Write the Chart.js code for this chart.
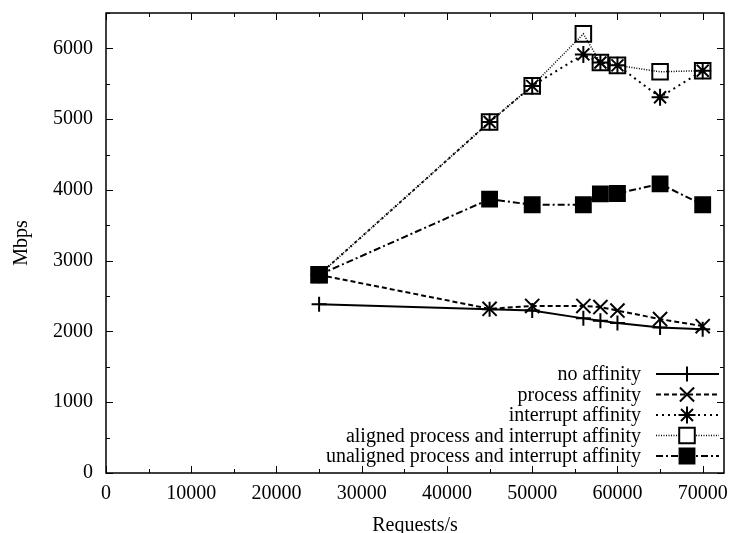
<!DOCTYPE html>
<html>
<head>
<meta charset="utf-8">
<script src="https://cdn.jsdelivr.net/npm/chart.js@4.4.0/dist/chart.umd.min.js"></script>
<style>
  html, body { margin: 0; padding: 0; background: #fff; }
  #wrap { width: 737px; height: 533px; }
</style>
</head>
<body>
<div id="wrap"><canvas id="myChart" width="737" height="533"></canvas></div>
<script>
// requests per second (x) and throughput in Mbps (y)
const requests = [25000, 45000, 50000, 56000, 58000, 60000, 65000, 70000];
const noAffinity        = [2385, 2315, 2295, 2185, 2150, 2120, 2055, 2030];
const processAffinity   = [2800, 2320, 2360, 2360, 2345, 2295, 2175, 2075];
const interruptAffinity = [2800, 4960, 5470, 5915, 5800, 5760, 5310, 5685];
const alignedAffinity   = [2800, 4960, 5470, 6205, 5800, 5760, 5670, 5685];
const unalignedAffinity = [2800, 3870, 3790, 3790, 3945, 3950, 4085, 3790];

const seriesNames = [
  'no affinity',
  'process affinity',
  'interrupt affinity',
  'aligned process and interrupt affinity',
  'unaligned process and interrupt affinity'
];

const xTicks = [0, 10000, 20000, 30000, 40000, 50000, 60000, 70000];
const yTicks = [0, 1000, 2000, 3000, 4000, 5000, 6000];

const FONT = '"Liberation Serif", "Times New Roman", serif';

function pts(vals) {
  return requests.map((r, i) => ({ x: r, y: vals[i] }));
}

function ds(label, vals, style, radius, fill, dash, lw) {
  return {
    label: label,
    data: pts(vals),
    showLine: true,
    borderColor: '#000',
    borderWidth: lw,
    borderDash: dash,
    pointStyle: style,
    pointRadius: radius,
    pointBorderWidth: 2,
    pointBorderColor: '#000',
    pointBackgroundColor: fill ? '#000' : 'rgba(0,0,0,0)',
    tension: 0
  };
}

const datasets = [
  ds(seriesNames[0], noAffinity, 'cross', 7.5, false, [], 2),
  ds(seriesNames[1], processAffinity, 'crossRot', 10, false, [5, 3], 2),
  ds(seriesNames[2], interruptAffinity, 'star', 8.5, false, [2, 4], 2),
  ds(seriesNames[3], alignedAffinity, 'rect', 11, false, [1, 1.5], 1.5),
  ds(seriesNames[4], unalignedAffinity, 'rect', 10.5, true, [7, 3, 2, 3], 2)
];

// gnuplot-like frame with inward ticks on all four sides
const framePlugin = {
  id: 'frame',
  afterDraw(chart) {
    const { ctx, chartArea: a, scales } = chart;
    ctx.save();
    ctx.strokeStyle = '#000';
    ctx.lineWidth = 1.5;
    ctx.strokeRect(a.left, a.top, a.right - a.left, a.bottom - a.top);
    ctx.lineWidth = 1;
    ctx.beginPath();
    for (let v = 0; v <= scales.x.max; v += 5000) {
      const px = Math.round(scales.x.getPixelForValue(v)) + 0.5;
      const len = v % 10000 === 0 ? 7 : 4;
      ctx.moveTo(px, a.bottom); ctx.lineTo(px, a.bottom - len);
      ctx.moveTo(px, a.top); ctx.lineTo(px, a.top + len);
    }
    for (let v = 0; v <= scales.y.max; v += 500) {
      const py = Math.round(scales.y.getPixelForValue(v)) + 0.5;
      const len = v % 1000 === 0 ? 7 : 4;
      ctx.moveTo(a.left, py); ctx.lineTo(a.left + len, py);
      ctx.moveTo(a.right, py); ctx.lineTo(a.right - len, py);
    }
    ctx.stroke();
    ctx.restore();
  }
};

// legend inside the plot, text right-aligned with the line sample on the right
const keyPlugin = {
  id: 'key',
  afterDraw(chart) {
    const { ctx, chartArea: a } = chart;
    ctx.save();
    ctx.font = '20px ' + FONT;
    ctx.textAlign = 'right';
    ctx.textBaseline = 'middle';
    ctx.fillStyle = '#000';
    chart.data.datasets.forEach((d, i) => {
      const y = a.bottom - 99 + i * 20.5;
      const x1 = a.right - 68, x2 = a.right - 5, xm = a.right - 37;
      ctx.fillText(d.label, a.right - 83, y + 1);
      ctx.beginPath();
      ctx.setLineDash(d.borderDash);
      ctx.lineWidth = d.borderWidth;
      ctx.strokeStyle = '#000';
      ctx.moveTo(x1, y); ctx.lineTo(x2, y);
      ctx.stroke();
      ctx.setLineDash([]);
      ctx.lineWidth = d.pointBorderWidth;
      ctx.fillStyle = d.pointBackgroundColor === '#000' ? '#000' : '#fff';
      Chart.helpers.drawPoint(ctx, { pointStyle: d.pointStyle, radius: d.pointRadius, rotation: 0, borderWidth: 2 }, xm, y);
      ctx.fillStyle = '#000';
    });
    ctx.restore();
  }
};

const ctx = document.getElementById('myChart');
const myChart = new Chart(ctx, {
  type: 'scatter',
  data: { datasets: datasets },
  options: {
    responsive: false,
    animation: false,
    layout: { padding: { left: 0, right: 2, top: 12, bottom: 0 } },
    plugins: {
      legend: { display: false },
      tooltip: { enabled: false }
    },
    scales: {
      x: {
        type: 'linear',
        min: 0,
        max: 72500,
        afterFit: s => { s.height = 60; s.paddingLeft = 0; s.paddingRight = 0; },
        afterBuildTicks: s => { s.ticks = xTicks.map(v => ({ value: v })); },
        grid: { display: false, drawTicks: false },
        border: { display: false },
        ticks: {
          color: '#000',
          padding: 9,
          maxRotation: 0,
          font: { family: FONT, size: 20, lineHeight: 1.2 },
          callback: v => String(v)
        },
        title: {
          display: true,
          text: 'Requests/s',
          color: '#000',
          font: { family: FONT, size: 20, lineHeight: 1 },
          padding: { top: 0, bottom: -3 }
        }
      },
      y: {
        type: 'linear',
        min: 0,
        max: 6500,
        afterFit: s => { s.width = 106; s.paddingTop = 0; s.paddingBottom = 0; },
        afterBuildTicks: s => { s.ticks = yTicks.map(v => ({ value: v })); },
        grid: { display: false, drawTicks: false },
        border: { display: false },
        ticks: {
          color: '#000',
          padding: 13,
          font: { family: FONT, size: 20 },
          callback: v => String(v)
        },
        title: {
          display: true,
          text: 'Mbps',
          color: '#000',
          font: { family: FONT, size: 20, lineHeight: 1 },
          padding: { top: 12, bottom: 0 }
        }
      }
    }
  },
  plugins: [framePlugin, keyPlugin]
});
</script>
</body>
</html>
